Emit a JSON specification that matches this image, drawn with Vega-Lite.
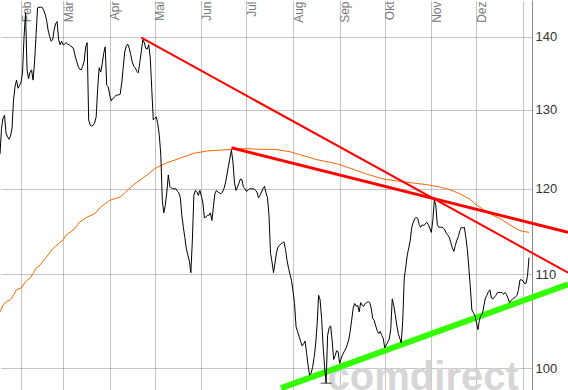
{
  "$schema": "https://vega.github.io/schema/vega-lite/v6.json",
  "width": 532,
  "height": 390,
  "autosize": "none",
  "padding": {"left": 0, "top": 0, "right": 36, "bottom": 0},
  "background": "white",
  "config": {"view": {"stroke": null}, "font": "Liberation Sans"},
  "datasets": {
    "price": [
      {"date":"2011-01-18","value":124.3},{"date":"2011-01-19","value":127.6},{"date":"2011-01-20","value":128.9},{"date":"2011-01-21","value":129.3},{"date":"2011-01-22","value":127.0},{"date":"2011-01-23","value":126.5},{"date":"2011-01-24","value":126.2},{"date":"2011-01-25","value":126.6},{"date":"2011-01-26","value":127.6},{"date":"2011-01-27","value":131.3},{"date":"2011-01-28","value":133.1},{"date":"2011-01-29","value":134.0},{"date":"2011-01-30","value":132.9},{"date":"2011-01-31","value":133.3},
      {"date":"2011-02-01","value":133.7},{"date":"2011-02-02","value":135.1},{"date":"2011-02-03","value":140.0},{"date":"2011-02-04","value":143.5},{"date":"2011-02-05","value":135.4},{"date":"2011-02-06","value":134.2},{"date":"2011-02-07","value":135.1},{"date":"2011-02-08","value":135.4},{"date":"2011-02-09","value":134.0},{"date":"2011-02-10","value":136.5},{"date":"2011-02-11","value":140.3},{"date":"2011-02-12","value":144.2},{"date":"2011-02-13","value":144.3},{"date":"2011-02-14","value":144.3},{"date":"2011-02-15","value":144.3},{"date":"2011-02-16","value":143.9},{"date":"2011-02-17","value":143.3},{"date":"2011-02-18","value":142.4},{"date":"2011-02-19","value":141.0},{"date":"2011-02-20","value":140.1},{"date":"2011-02-21","value":139.4},{"date":"2011-02-22","value":139.6},{"date":"2011-02-23","value":141.0},{"date":"2011-02-24","value":141.9},{"date":"2011-02-25","value":142.2},{"date":"2011-02-26","value":139.6},{"date":"2011-02-27","value":138.9},{"date":"2011-02-28","value":139.4},
      {"date":"2011-03-01","value":138.9},{"date":"2011-03-02","value":139.0},{"date":"2011-03-03","value":139.2},{"date":"2011-03-04","value":139.0},{"date":"2011-03-05","value":138.9},{"date":"2011-03-06","value":138.7},{"date":"2011-03-07","value":138.6},{"date":"2011-03-08","value":138.3},{"date":"2011-03-09","value":137.3},{"date":"2011-03-10","value":136.6},{"date":"2011-03-11","value":135.9},{"date":"2011-03-12","value":135.5},{"date":"2011-03-13","value":135.4},{"date":"2011-03-14","value":135.9},{"date":"2011-03-15","value":136.6},{"date":"2011-03-16","value":138.6},{"date":"2011-03-17","value":139.2},{"date":"2011-03-18","value":128.7},{"date":"2011-03-19","value":128.0},{"date":"2011-03-20","value":127.9},{"date":"2011-03-21","value":128.0},{"date":"2011-03-22","value":128.3},{"date":"2011-03-23","value":129.1},{"date":"2011-03-24","value":132.9},{"date":"2011-03-25","value":135.7},{"date":"2011-03-26","value":135.1},{"date":"2011-03-27","value":136.2},{"date":"2011-03-28","value":137.7},{"date":"2011-03-29","value":138.6},{"date":"2011-03-30","value":133.3},{"date":"2011-03-31","value":133.1},
      {"date":"2011-04-01","value":132.0},{"date":"2011-04-02","value":131.2},{"date":"2011-04-03","value":131.5},{"date":"2011-04-04","value":131.7},{"date":"2011-04-05","value":131.9},{"date":"2011-04-06","value":132.0},{"date":"2011-04-07","value":132.0},{"date":"2011-04-08","value":132.1},{"date":"2011-04-09","value":133.6},{"date":"2011-04-10","value":135.7},{"date":"2011-04-11","value":137.9},{"date":"2011-04-12","value":138.7},{"date":"2011-04-13","value":139.0},{"date":"2011-04-14","value":138.4},{"date":"2011-04-15","value":137.5},{"date":"2011-04-16","value":136.5},{"date":"2011-04-17","value":135.9},{"date":"2011-04-18","value":135.7},{"date":"2011-04-19","value":135.2},{"date":"2011-04-20","value":135.0},{"date":"2011-04-21","value":136.4},{"date":"2011-04-22","value":137.9},{"date":"2011-04-23","value":139.6},{"date":"2011-04-24","value":139.2},{"date":"2011-04-25","value":138.4},{"date":"2011-04-26","value":138.3},{"date":"2011-04-27","value":138.9},{"date":"2011-04-28","value":137.0},{"date":"2011-04-29","value":132.7},{"date":"2011-04-30","value":128.7},
      {"date":"2011-05-01","value":128.9},{"date":"2011-05-02","value":129.1},{"date":"2011-05-03","value":128.2},{"date":"2011-05-04","value":126.7},{"date":"2011-05-05","value":124.2},{"date":"2011-05-06","value":118.6},{"date":"2011-05-07","value":117.1},{"date":"2011-05-08","value":118.0},{"date":"2011-05-09","value":119.6},{"date":"2011-05-10","value":121.7},{"date":"2011-05-11","value":120.3},{"date":"2011-05-12","value":120.1},{"date":"2011-05-13","value":120.0},{"date":"2011-05-14","value":120.0},{"date":"2011-05-15","value":120.0},{"date":"2011-05-16","value":119.7},{"date":"2011-05-17","value":119.5},{"date":"2011-05-18","value":118.9},{"date":"2011-05-19","value":116.8},{"date":"2011-05-20","value":115.4},{"date":"2011-05-21","value":114.2},{"date":"2011-05-22","value":112.9},{"date":"2011-05-23","value":112.2},{"date":"2011-05-24","value":111.5},{"date":"2011-05-25","value":110.2},{"date":"2011-05-26","value":113.9},{"date":"2011-05-27","value":119.2},{"date":"2011-05-28","value":119.8},{"date":"2011-05-29","value":119.6},{"date":"2011-05-30","value":119.2},{"date":"2011-05-31","value":119.8},
      {"date":"2011-06-01","value":119.1},{"date":"2011-06-02","value":118.3},{"date":"2011-06-03","value":116.5},{"date":"2011-06-04","value":116.6},{"date":"2011-06-05","value":116.8},{"date":"2011-06-06","value":116.8},{"date":"2011-06-07","value":117.1},{"date":"2011-06-08","value":116.2},{"date":"2011-06-09","value":117.8},{"date":"2011-06-10","value":119.4},{"date":"2011-06-11","value":119.8},{"date":"2011-06-12","value":119.6},{"date":"2011-06-13","value":119.5},{"date":"2011-06-14","value":119.4},{"date":"2011-06-15","value":119.6},{"date":"2011-06-16","value":120.0},{"date":"2011-06-17","value":120.7},{"date":"2011-06-18","value":121.7},{"date":"2011-06-19","value":122.8},{"date":"2011-06-20","value":123.8},{"date":"2011-06-21","value":124.8},{"date":"2011-06-22","value":123.3},{"date":"2011-06-23","value":120.8},{"date":"2011-06-24","value":119.8},{"date":"2011-06-25","value":120.2},{"date":"2011-06-26","value":120.7},{"date":"2011-06-27","value":121.2},{"date":"2011-06-28","value":121.1},{"date":"2011-06-29","value":120.2},{"date":"2011-06-30","value":120.0},
      {"date":"2011-07-01","value":119.7},{"date":"2011-07-02","value":119.8},{"date":"2011-07-03","value":120.0},{"date":"2011-07-04","value":120.0},{"date":"2011-07-05","value":120.0},{"date":"2011-07-06","value":120.0},{"date":"2011-07-07","value":119.8},{"date":"2011-07-08","value":119.6},{"date":"2011-07-09","value":118.9},{"date":"2011-07-10","value":119.2},{"date":"2011-07-11","value":119.6},{"date":"2011-07-12","value":120.0},{"date":"2011-07-13","value":120.3},{"date":"2011-07-14","value":119.5},{"date":"2011-07-15","value":118.9},{"date":"2011-07-16","value":116.8},{"date":"2011-07-17","value":112.4},{"date":"2011-07-18","value":111.4},{"date":"2011-07-19","value":110.2},{"date":"2011-07-20","value":111.3},{"date":"2011-07-21","value":112.5},{"date":"2011-07-22","value":113.1},{"date":"2011-07-23","value":113.3},{"date":"2011-07-24","value":113.5},{"date":"2011-07-25","value":113.6},{"date":"2011-07-26","value":113.7},{"date":"2011-07-27","value":112.8},{"date":"2011-07-28","value":111.6},{"date":"2011-07-29","value":110.7},{"date":"2011-07-30","value":110.0},{"date":"2011-07-31","value":109.3},
      {"date":"2011-08-01","value":108.1},{"date":"2011-08-02","value":106.8},{"date":"2011-08-03","value":104.3},{"date":"2011-08-04","value":103.8},{"date":"2011-08-05","value":103.3},{"date":"2011-08-06","value":102.8},{"date":"2011-08-07","value":102.3},{"date":"2011-08-08","value":102.5},{"date":"2011-08-09","value":102.8},{"date":"2011-08-10","value":101.6},{"date":"2011-08-11","value":100.3},{"date":"2011-08-12","value":99.3},{"date":"2011-08-13","value":99.5},{"date":"2011-08-14","value":100.1},{"date":"2011-08-15","value":101.1},{"date":"2011-08-16","value":102.4},{"date":"2011-08-17","value":104.5},{"date":"2011-08-18","value":107.7},{"date":"2011-08-19","value":107.2},{"date":"2011-08-20","value":105.2},{"date":"2011-08-21","value":102.3},{"date":"2011-08-22","value":100.1},{"date":"2011-08-23","value":98.5},{"date":"2011-08-24","value":103.4},{"date":"2011-08-25","value":104.2},{"date":"2011-08-26","value":104.4},{"date":"2011-08-27","value":102.9},{"date":"2011-08-28","value":100.9},{"date":"2011-08-29","value":101.3},{"date":"2011-08-30","value":101.8},{"date":"2011-08-31","value":101.7},
      {"date":"2011-09-01","value":100.5},{"date":"2011-09-02","value":101.0},{"date":"2011-09-03","value":101.4},{"date":"2011-09-04","value":101.7},{"date":"2011-09-05","value":102.0},{"date":"2011-09-06","value":102.4},{"date":"2011-09-07","value":102.9},{"date":"2011-09-08","value":103.8},{"date":"2011-09-09","value":105.0},{"date":"2011-09-10","value":106.3},{"date":"2011-09-11","value":106.8},{"date":"2011-09-12","value":106.5},{"date":"2011-09-13","value":106.6},{"date":"2011-09-14","value":105.9},{"date":"2011-09-15","value":106.9},{"date":"2011-09-16","value":106.6},{"date":"2011-09-17","value":106.5},{"date":"2011-09-18","value":106.8},{"date":"2011-09-19","value":106.9},{"date":"2011-09-20","value":107.0},{"date":"2011-09-21","value":106.9},{"date":"2011-09-22","value":106.3},{"date":"2011-09-23","value":105.2},{"date":"2011-09-24","value":105.0},{"date":"2011-09-25","value":104.4},{"date":"2011-09-26","value":103.9},{"date":"2011-09-27","value":103.6},{"date":"2011-09-28","value":103.8},{"date":"2011-09-29","value":103.4},{"date":"2011-09-30","value":103.1},
      {"date":"2011-10-01","value":102.1},{"date":"2011-10-02","value":102.4},{"date":"2011-10-03","value":102.7},{"date":"2011-10-04","value":103.0},{"date":"2011-10-05","value":104.0},{"date":"2011-10-06","value":107.3},{"date":"2011-10-07","value":106.6},{"date":"2011-10-08","value":105.6},{"date":"2011-10-09","value":104.5},{"date":"2011-10-10","value":103.6},{"date":"2011-10-11","value":103.1},{"date":"2011-10-12","value":102.6},{"date":"2011-10-13","value":105.0},{"date":"2011-10-14","value":109.6},{"date":"2011-10-15","value":110.8},{"date":"2011-10-16","value":112.2},{"date":"2011-10-17","value":113.0},{"date":"2011-10-18","value":113.9},{"date":"2011-10-19","value":115.4},{"date":"2011-10-20","value":116.0},{"date":"2011-10-21","value":116.4},{"date":"2011-10-22","value":116.6},{"date":"2011-10-23","value":116.4},{"date":"2011-10-24","value":115.7},{"date":"2011-10-25","value":115.4},{"date":"2011-10-26","value":115.7},{"date":"2011-10-27","value":115.6},{"date":"2011-10-28","value":115.8},{"date":"2011-10-29","value":116.0},{"date":"2011-10-30","value":115.7},{"date":"2011-10-31","value":115.3},
      {"date":"2011-11-01","value":114.8},{"date":"2011-11-02","value":116.2},{"date":"2011-11-03","value":118.6},{"date":"2011-11-04","value":118.0},{"date":"2011-11-05","value":115.7},{"date":"2011-11-06","value":115.4},{"date":"2011-11-07","value":115.4},{"date":"2011-11-08","value":115.4},{"date":"2011-11-09","value":115.3},{"date":"2011-11-10","value":115.1},{"date":"2011-11-11","value":114.7},{"date":"2011-11-12","value":114.5},{"date":"2011-11-13","value":114.2},{"date":"2011-11-14","value":113.6},{"date":"2011-11-15","value":113.0},{"date":"2011-11-16","value":112.6},{"date":"2011-11-17","value":113.3},{"date":"2011-11-18","value":113.9},{"date":"2011-11-19","value":114.3},{"date":"2011-11-20","value":115.0},{"date":"2011-11-21","value":115.4},{"date":"2011-11-22","value":115.3},{"date":"2011-11-23","value":115.4},{"date":"2011-11-24","value":114.2},{"date":"2011-11-25","value":112.8},{"date":"2011-11-26","value":110.7},{"date":"2011-11-27","value":108.5},{"date":"2011-11-28","value":106.1},{"date":"2011-11-29","value":105.8},{"date":"2011-11-30","value":105.5},
      {"date":"2011-12-01","value":104.8},{"date":"2011-12-02","value":104.0},{"date":"2011-12-03","value":105.0},{"date":"2011-12-04","value":105.5},{"date":"2011-12-05","value":105.7},{"date":"2011-12-06","value":106.6},{"date":"2011-12-07","value":107.4},{"date":"2011-12-08","value":107.7},{"date":"2011-12-09","value":108.1},{"date":"2011-12-10","value":108.3},{"date":"2011-12-11","value":107.4},{"date":"2011-12-12","value":107.3},{"date":"2011-12-13","value":107.5},{"date":"2011-12-14","value":107.7},{"date":"2011-12-15","value":108.0},{"date":"2011-12-16","value":108.0},{"date":"2011-12-17","value":108.0},{"date":"2011-12-18","value":108.0},{"date":"2011-12-19","value":107.8},{"date":"2011-12-20","value":108.0},{"date":"2011-12-21","value":107.8},{"date":"2011-12-22","value":107.4},{"date":"2011-12-23","value":106.9},{"date":"2011-12-24","value":107.1},{"date":"2011-12-25","value":107.3},{"date":"2011-12-26","value":107.4},{"date":"2011-12-27","value":107.5},{"date":"2011-12-28","value":107.7},{"date":"2011-12-29","value":108.3},{"date":"2011-12-30","value":109.4},{"date":"2011-12-31","value":109.4},
      {"date":"2012-01-01","value":109.3},{"date":"2012-01-02","value":109.0},{"date":"2012-01-03","value":109.0},{"date":"2012-01-04","value":109.8},{"date":"2012-01-05","value":111.9}
    ],
    "ma": [
      {"date":"2011-01-18","value":105.9},{"date":"2011-01-20","value":106.6},{"date":"2011-01-22","value":107.0},{"date":"2011-01-25","value":107.2},{"date":"2011-01-27","value":107.7},{"date":"2011-01-29","value":108.3},{"date":"2011-02-01","value":108.5},{"date":"2011-02-04","value":109.2},{"date":"2011-02-07","value":109.6},{"date":"2011-02-09","value":110.1},{"date":"2011-02-11","value":110.7},{"date":"2011-02-14","value":111.1},{"date":"2011-02-16","value":111.6},{"date":"2011-02-19","value":112.2},{"date":"2011-02-22","value":112.9},{"date":"2011-02-26","value":113.5},{"date":"2011-03-01","value":113.9},{"date":"2011-03-03","value":114.5},{"date":"2011-03-08","value":115.1},{"date":"2011-03-12","value":116.0},{"date":"2011-03-17","value":116.6},{"date":"2011-03-22","value":117.0},{"date":"2011-03-26","value":117.8},{"date":"2011-04-01","value":118.6},{"date":"2011-04-08","value":119.0},{"date":"2011-04-17","value":120.5},{"date":"2011-04-26","value":121.7},{"date":"2011-05-01","value":122.5},{"date":"2011-05-09","value":123.2},{"date":"2011-05-18","value":123.8},{"date":"2011-05-27","value":124.4},{"date":"2011-06-05","value":124.7},{"date":"2011-06-13","value":124.8},{"date":"2011-06-22","value":124.9},{"date":"2011-07-01","value":125.0},{"date":"2011-07-10","value":124.9},{"date":"2011-07-20","value":124.9},{"date":"2011-07-30","value":124.6},{"date":"2011-08-06","value":124.2},{"date":"2011-08-17","value":123.6},{"date":"2011-08-30","value":123.1},{"date":"2011-09-10","value":122.4},{"date":"2011-09-19","value":121.8},{"date":"2011-09-30","value":121.2},{"date":"2011-10-11","value":120.9},{"date":"2011-10-20","value":120.7},{"date":"2011-10-29","value":120.5},{"date":"2011-11-07","value":120.2},{"date":"2011-11-13","value":119.9},{"date":"2011-11-20","value":119.4},{"date":"2011-11-27","value":118.7},{"date":"2011-11-30","value":118.2},{"date":"2011-12-03","value":117.8},{"date":"2011-12-10","value":117.0},{"date":"2011-12-17","value":116.4},{"date":"2011-12-23","value":115.7},{"date":"2011-12-30","value":115.0},{"date":"2012-01-05","value":114.8}
    ],
    "trend": [
      {"line":"A","date":"2011-04-22","value":139.9},{"line":"A","date":"2012-01-31","value":110.2},
      {"line":"B","date":"2011-06-21","value":125.1},{"line":"B","date":"2012-01-31","value":114.8}
    ],
    "support": [
      {"date":"2011-07-24","value":98.0},{"date":"2012-01-31","value":108.9}
    ],
    "low": [{"date":"2011-08-23","value":98.5}],
    "brand": [{"date":"2011-08-24","value":97.85,"label":"comdirect"}]
  },
  "encoding": {
    "x": {
      "field": "date", "type": "temporal",
      "scale": {"type": "utc", "domain": [{"year":2011,"month":1,"date":18,"utc":true},{"year":2012,"month":1,"date":7,"utc":true}]},
      "axis": {
        "orient": "top", "title": null, "domain": false, "ticks": false, "tickSize": 0,
        "grid": true, "gridColor": "#888888", "gridDash": [1,1], "gridWidth": 1,
        "values": [
          {"year":2011,"month":2,"date":1,"utc":true},{"year":2011,"month":3,"date":1,"utc":true},{"year":2011,"month":4,"date":1,"utc":true},{"year":2011,"month":5,"date":1,"utc":true},{"year":2011,"month":6,"date":1,"utc":true},{"year":2011,"month":7,"date":1,"utc":true},{"year":2011,"month":8,"date":1,"utc":true},{"year":2011,"month":9,"date":1,"utc":true},{"year":2011,"month":10,"date":1,"utc":true},{"year":2011,"month":11,"date":1,"utc":true},{"year":2011,"month":12,"date":1,"utc":true},{"year":2012,"month":1,"date":1,"utc":true}
        ],
        "labelExpr": "utcmonth(datum.value) == 0 ? '' : ['Jan','Feb','Mär','Apr','Mai','Jun','Jul','Aug','Sep','Okt','Nov','Dez'][utcmonth(datum.value)]",
        "labelAngle": 270, "labelAlign": "right", "labelBaseline": "top", "labelPadding": -1,
        "labelFontSize": 12, "labelColor": "#777777", "labelFont": "Liberation Sans",
        "labelOverlap": false, "labelFlush": false, "labelBound": false
      }
    },
    "y": {
      "field": "value", "type": "quantitative",
      "scale": {"type": "log", "domain": [97.82, 145.36], "nice": false, "zero": false},
      "axis": {
        "orient": "right", "title": null, "values": [100,110,120,130,140], "format": "d",
        "grid": true, "gridColor": "#888888", "gridDash": [1,1], "gridWidth": 1,
        "domain": true, "domainColor": "#888888", "domainWidth": 1,
        "ticks": false, "labelPadding": 3, "labelFontSize": 13, "labelColor": "#333333",
        "labelFont": "Liberation Sans", "labelOverlap": false, "labelFlush": false
      }
    }
  },
  "layer": [
    {"data": {"name": "brand"}, "mark": {"type": "text", "align": "left", "baseline": "alphabetic", "fontSize": 40, "fontWeight": "bold", "font": "Liberation Sans", "color": "#d6d6d6", "clip": false}, "encoding": {"text": {"field": "label"}}},
    {"data": {"name": "support"}, "mark": {"type": "line", "color": "#33ff00", "strokeWidth": 6, "clip": false, "strokeCap": "butt"}},
    {"data": {"name": "ma"}, "mark": {"type": "line", "color": "#ff6600", "strokeWidth": 1}},
    {"data": {"name": "trend"}, "transform": [{"filter": "datum.line == 'A'"}], "mark": {"type": "line", "color": "#ff0000", "strokeWidth": 2, "clip": false}},
    {"data": {"name": "trend"}, "transform": [{"filter": "datum.line == 'B'"}], "mark": {"type": "line", "color": "#ff0000", "strokeWidth": 3, "clip": false}},
    {"data": {"name": "price"}, "mark": {"type": "line", "color": "#000000", "strokeWidth": 1}},
    {"data": {"name": "low"}, "mark": {"type": "tick", "orient": "horizontal", "color": "#000000", "size": 11, "thickness": 1}}
  ]
}
